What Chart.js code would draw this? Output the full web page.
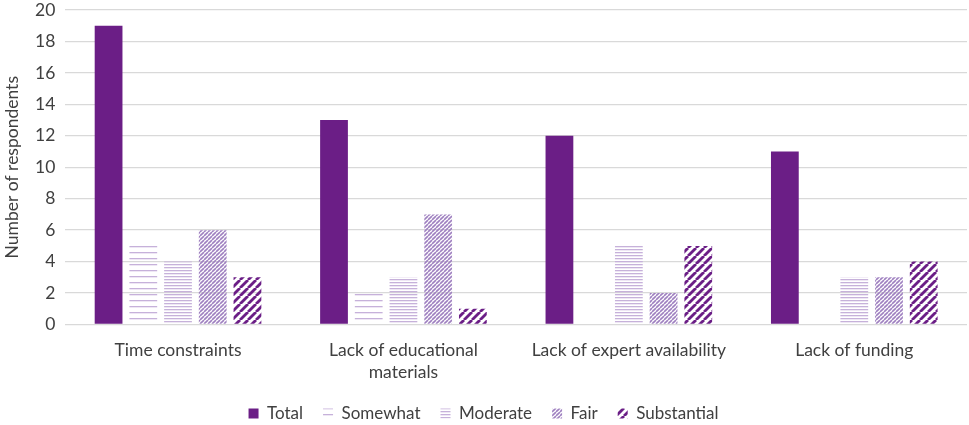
<!DOCTYPE html>
<html>
<head>
<meta charset="utf-8">
<script src="https://cdn.jsdelivr.net/npm/chart.js@4/dist/chart.umd.min.js"></script>
<style>
  html, body { margin: 0; padding: 0; background: #fff; }
  #wrap { width: 969px; height: 425px; }
</style>
</head>
<body>
<div id="wrap"><canvas id="chart"></canvas></div>
<script>
// chart data
const categories = ['Time constraints', ['Lack of educational', 'materials'], 'Lack of expert availability', 'Lack of funding'];
const seriesNames = ['Total', 'Somewhat', 'Moderate', 'Fair', 'Substantial'];
const totalValues = [19, 13, 12, 11];
const somewhatValues = [5, 2, 0, 0];
const moderateValues = [4, 3, 5, 3];
const fairValues = [6, 7, 2, 3];
const substantialValues = [3, 1, 5, 4];
const yTicks = [0, 2, 4, 6, 8, 10, 12, 14, 16, 18, 20];

const dark = '#6B1E86';
const light = '#C6B1DA';
const mid = '#9F80C0';

// horizontal line pattern
function hLines(color, period, width) {
  const c = document.createElement('canvas');
  c.width = 8; c.height = period;
  const g = c.getContext('2d');
  g.fillStyle = color;
  g.fillRect(0, 0, 8, width);
  return g.createPattern(c, 'repeat');
}

// diagonal "/" line pattern
function dLines(color, period, width) {
  const c = document.createElement('canvas');
  c.width = period; c.height = period;
  const g = c.getContext('2d');
  g.strokeStyle = color;
  g.lineWidth = width;
  for (let k = -1; k <= 1; k++) {
    g.beginPath();
    g.moveTo(k * period, period);
    g.lineTo(k * period + period, 0);
    g.stroke();
  }
  return g.createPattern(c, 'repeat');
}

const fills = [dark, hLines(light, 6, 1.3), hLines(light, 3, 1.3), dLines(mid, 4, 1.6), dLines(dark, 8, 2.8)];
const values = [totalValues, somewhatValues, moderateValues, fairValues, substantialValues];
const font = 'Lato';

// trim the legend box so it sits lower, closer to the bottom edge
const legendShift = {
  id: 'legendShift',
  beforeLayout(chart) {
    const lg = chart.legend;
    if (lg && !lg._trimmed) {
      const fit = lg.fit;
      lg.fit = function () { fit.call(this); this.height -= 7; };
      lg._trimmed = true;
    }
  }
};

const ctx = document.getElementById('chart').getContext('2d');
new Chart(ctx, {
  type: 'bar',
  data: {
    labels: categories,
    datasets: seriesNames.map((name, i) => ({
      label: name,
      data: values[i],
      backgroundColor: fills[i],
      borderWidth: 0,
      categoryPercentage: 0.77,
      barPercentage: 0.8
    }))
  },
  plugins: [legendShift],
  options: {
    responsive: true,
    maintainAspectRatio: false,
    animation: false,
    layout: { padding: { top: 0, right: 2, bottom: 0, left: 0 } },
    plugins: {
      tooltip: { enabled: false },
      legend: {
        position: 'bottom',
        labels: {
          boxWidth: 10, boxHeight: 10, padding: 20,
          color: '#404040',
          font: { family: font, size: 17 }
        }
      }
    },
    scales: {
      x: {
        grid: { display: false },
        border: { display: false },
        ticks: { color: '#404040', font: { family: font, size: 17.5, lineHeight: 1.3 }, maxRotation: 0, padding: 6 },
        afterFit: axis => { axis.height = 60.5; }
      },
      y: {
        min: 0, max: 20,
        afterBuildTicks: axis => { axis.ticks = yTicks.map(v => ({ value: v })); },
        afterFit: axis => { axis.paddingTop = 10; axis.paddingBottom = 10; },
        grid: { color: '#D9D9D9', lineWidth: 1.3, drawTicks: false },
        border: { display: false },
        ticks: { color: '#404040', font: { family: font, size: 17.5 }, padding: 10 },
        title: { display: true, text: 'Number of respondents', color: '#404040', font: { family: font, size: 17.5 }, padding: 2 }
      }
    }
  }
});
</script>
</body>
</html>
